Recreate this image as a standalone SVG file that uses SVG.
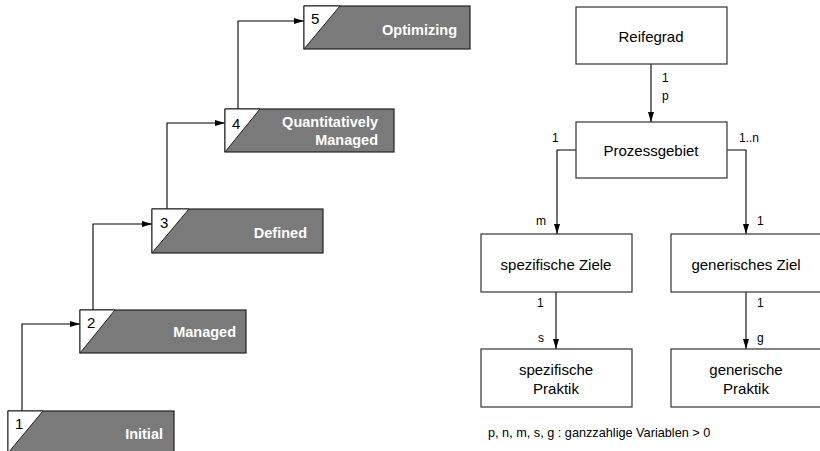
<svg xmlns="http://www.w3.org/2000/svg" width="820" height="451" viewBox="0 0 820 451">
  <style>
    .lvl { fill: #7a7a7a; stroke: #222; stroke-width: 1.2; }
    .tri { fill: #fff; stroke: #222; stroke-width: 1; }
    .num { font-family: "Liberation Sans", Arial, sans-serif; font-size: 15px; fill: #000; }
    .lbl { font-family: "Liberation Sans", Arial, sans-serif; font-size: 14.5px; font-weight: bold; fill: #fff; text-anchor: end; }
    .box { fill: #fff; stroke: #333; stroke-width: 1.2; }
    .txt { font-family: "Liberation Sans", Arial, sans-serif; font-size: 15px; fill: #000; text-anchor: middle; }
    .card { font-family: "Liberation Sans", Arial, sans-serif; font-size: 12px; fill: #000; }
    .note { font-family: "Liberation Sans", Arial, sans-serif; font-size: 12.7px; fill: #000; }
    .con { fill: none; stroke: #000; stroke-width: 1.1; }
  </style>
  <defs>
    <marker id="arr" viewBox="0 0 10 6" refX="10" refY="3" markerWidth="10" markerHeight="6" markerUnits="userSpaceOnUse" orient="auto">
      <path d="M0,0 L10,3 L0,6 z" fill="#000"/>
    </marker>
  </defs>

  <!-- connectors: staircase on the left, structure tree on the right -->
  <g id="connectors">
    <path class="con" d="M22,411 V324 H80" marker-end="url(#arr)"/>
    <path class="con" d="M93,310 V224 H152" marker-end="url(#arr)"/>
    <path class="con" d="M167,209 V123 H225" marker-end="url(#arr)"/>
    <path class="con" d="M238,109 V21 H304" marker-end="url(#arr)"/>

    <path class="con" d="M651,64 V122" marker-end="url(#arr)"/>
    <path class="con" d="M576,150 H557 V234" marker-end="url(#arr)"/>
    <path class="con" d="M727,150 H746 V234" marker-end="url(#arr)"/>
    <path class="con" d="M556,292 V349" marker-end="url(#arr)"/>
    <path class="con" d="M746,292 V349" marker-end="url(#arr)"/>
  </g>

  <!-- maturity levels -->
  <g id="level1">
    <rect class="lvl" x="8" y="411" width="166" height="42"/>
    <path class="tri" d="M8,411 H43 L8,453 z"/>
    <text class="num" x="15" y="429">1</text>
    <text class="lbl" x="163" y="439">Initial</text>
  </g>
  <g id="level2">
    <rect class="lvl" x="80" y="310" width="166" height="43"/>
    <path class="tri" d="M80,310 H115 L80,353 z"/>
    <text class="num" x="87" y="328">2</text>
    <text class="lbl" x="236" y="337">Managed</text>
  </g>
  <g id="level3">
    <rect class="lvl" x="152" y="209" width="171" height="44"/>
    <path class="tri" d="M152,209 H189 L152,253 z"/>
    <text class="num" x="160" y="228">3</text>
    <text class="lbl" x="307" y="238">Defined</text>
  </g>
  <g id="level4">
    <rect class="lvl" x="225" y="109" width="169" height="43"/>
    <path class="tri" d="M225,109 H260 L225,152 z"/>
    <text class="num" x="232" y="129">4</text>
    <text class="lbl" x="378" y="127">Quantitatively</text>
    <text class="lbl" x="378" y="145">Managed</text>
  </g>
  <g id="level5">
    <rect class="lvl" x="304" y="6" width="166" height="43"/>
    <path class="tri" d="M304,6 H340 L304,49 z"/>
    <text class="num" x="311" y="24">5</text>
    <text class="lbl" x="457" y="35">Optimizing</text>
  </g>

  <!-- model structure -->
  <g id="reifegrad">
    <rect class="box" x="576" y="7" width="151" height="57"/>
    <text class="txt" x="651" y="42">Reifegrad</text>
  </g>
  <g id="prozessgebiet">
    <rect class="box" x="576" y="122" width="151" height="56"/>
    <text class="txt" x="651" y="156">Prozessgebiet</text>
  </g>
  <g id="spezifische-ziele">
    <rect class="box" x="481" y="234" width="151" height="58"/>
    <text class="txt" x="556" y="270">spezifische Ziele</text>
  </g>
  <g id="generisches-ziel">
    <rect class="box" x="671" y="234" width="151" height="58"/>
    <text class="txt" x="746" y="270">generisches Ziel</text>
  </g>
  <g id="spezifische-praktik">
    <rect class="box" x="481" y="349" width="151" height="58"/>
    <text class="txt" x="556" y="375">spezifische</text>
    <text class="txt" x="556" y="394">Praktik</text>
  </g>
  <g id="generische-praktik">
    <rect class="box" x="671" y="349" width="151" height="58"/>
    <text class="txt" x="746" y="375">generische</text>
    <text class="txt" x="746" y="394">Praktik</text>
  </g>

  <!-- multiplicities -->
  <g id="cardinalities">
    <text class="card" x="662" y="82">1</text>
    <text class="card" x="662" y="100">p</text>
    <text class="card" x="552" y="142">1</text>
    <text class="card" x="739" y="142">1..n</text>
    <text class="card" x="536" y="225">m</text>
    <text class="card" x="757" y="225">1</text>
    <text class="card" x="537" y="307">1</text>
    <text class="card" x="757" y="307">1</text>
    <text class="card" x="538" y="342">s</text>
    <text class="card" x="757" y="342">g</text>
  </g>

  <text class="note" x="488" y="437">p, n, m, s, g : ganzzahlige Variablen &gt; 0</text>
</svg>
